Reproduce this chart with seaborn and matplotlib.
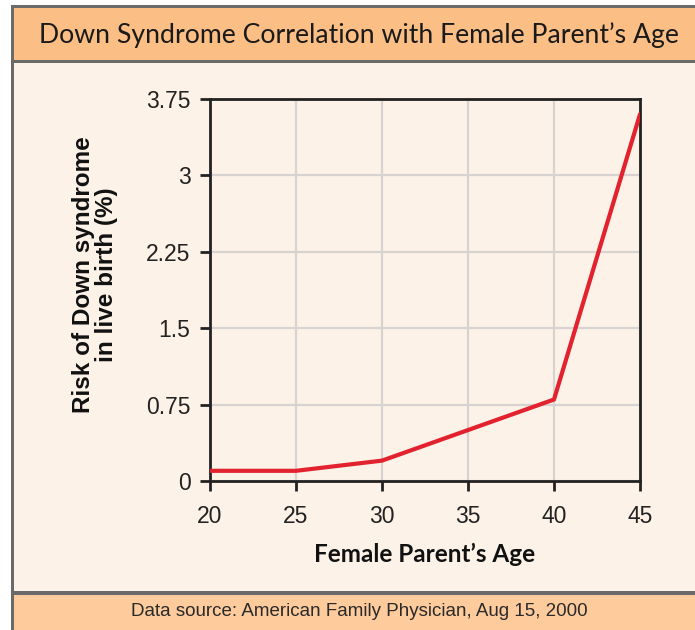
import matplotlib
matplotlib.use("Agg")
import matplotlib.pyplot as plt
from matplotlib.patches import Rectangle
import seaborn as sns
import pandas as pd

# Risk of Down syndrome by maternal age
ages = [20, 25, 30, 35, 40, 45]
risk_pct = [0.1, 0.1, 0.2, 0.5, 0.8, 3.6]
x_ticks = [20, 25, 30, 35, 40, 45]
y_ticks = [0, 0.75, 1.5, 2.25, 3, 3.75]
y_tick_labels = ["0", "0.75", "1.5", "2.25", "3", "3.75"]

title = "Down Syndrome Correlation with Female Parent\u2019s Age"
x_label = "Female Parent\u2019s Age"
y_label = "Risk of Down syndrome\nin live birth (%)"
source = "Data source: American Family Physician, Aug 15, 2000"

df = pd.DataFrame({"age": ages, "risk": risk_pct})

sns.set_theme(style="white")
plt.rcParams["font.family"] = ["Liberation Sans", "DejaVu Sans"]

W, H = 695, 630
fig = plt.figure(figsize=(W / 100, H / 100), dpi=100)
fig.patch.set_facecolor("white")

cream = "#FDF2E7"
orange_top = "#FBBE85"
orange_bottom = "#FDCB9C"
border = "#6C6A68"


def px_rect(x0, y0, x1, y1, color, z):
    fig.patches.append(Rectangle((x0 / W, 1 - y1 / H), (x1 - x0) / W, (y1 - y0) / H,
                                 transform=fig.transFigure, facecolor=color,
                                 edgecolor="none", zorder=z))


# panel background, header and footer bands
px_rect(11, 5, W, H, cream, 0)
px_rect(14, 7, W, 60, orange_top, 1)
px_rect(14, 594, W, H, orange_bottom, 1)
# frame lines
px_rect(11, 5, W, 7.5, border, 2)
px_rect(11, 5, 14.5, H, border, 2)
px_rect(14, 59.5, W, 62.5, border, 2)
px_rect(14, 591, W, 594.5, border, 2)

fig.text(359 / W, 1 - 35 / H, title, ha="center", va="center",
         fontsize=19.2, family=["Lato", "DejaVu Sans"], color="#1a1a1a", zorder=3)
fig.text(359 / W, 1 - 611 / H, source, ha="center", va="center",
         fontsize=13.5, color="#2a2a2a", zorder=3)

ax = fig.add_axes([210 / W, 1 - 481 / H, (640 - 210) / W, (481 - 99) / H])
ax.set_zorder(5)
ax.set_facecolor(cream)

sns.lineplot(data=df, x="age", y="risk", ax=ax, color="#E3222F", linewidth=3,
             zorder=3)

ax.set_xlim(20, 45)
ax.set_ylim(0, 3.75)
ax.set_xticks(x_ticks)
ax.set_yticks(y_ticks)
ax.set_yticklabels(y_tick_labels)
ax.grid(True, color="#D6D3D0", linewidth=1.6)
ax.set_axisbelow(True)

for side in ["left", "bottom", "top", "right"]:
    ax.spines[side].set_visible(True)
    ax.spines[side].set_color("#222222")
    ax.spines[side].set_linewidth(2)

ax.tick_params(axis="both", which="major", direction="out", length=7, width=2,
               color="#222222", labelsize=16.5, labelcolor="#222222", pad=7,
               bottom=True, left=True)
ax.tick_params(axis="x", pad=10)

ax.set_xlabel(x_label, fontsize=17.5, fontweight="bold",
              family=["Lato", "DejaVu Sans"], color="#111111", labelpad=11)
ax.set_ylabel(y_label, fontsize=17.5, fontweight="bold", color="#111111",
              linespacing=1.0)
ax.yaxis.set_label_coords(-0.215, 0.54)

fig.savefig("out.png", dpi=100, facecolor=fig.get_facecolor())
